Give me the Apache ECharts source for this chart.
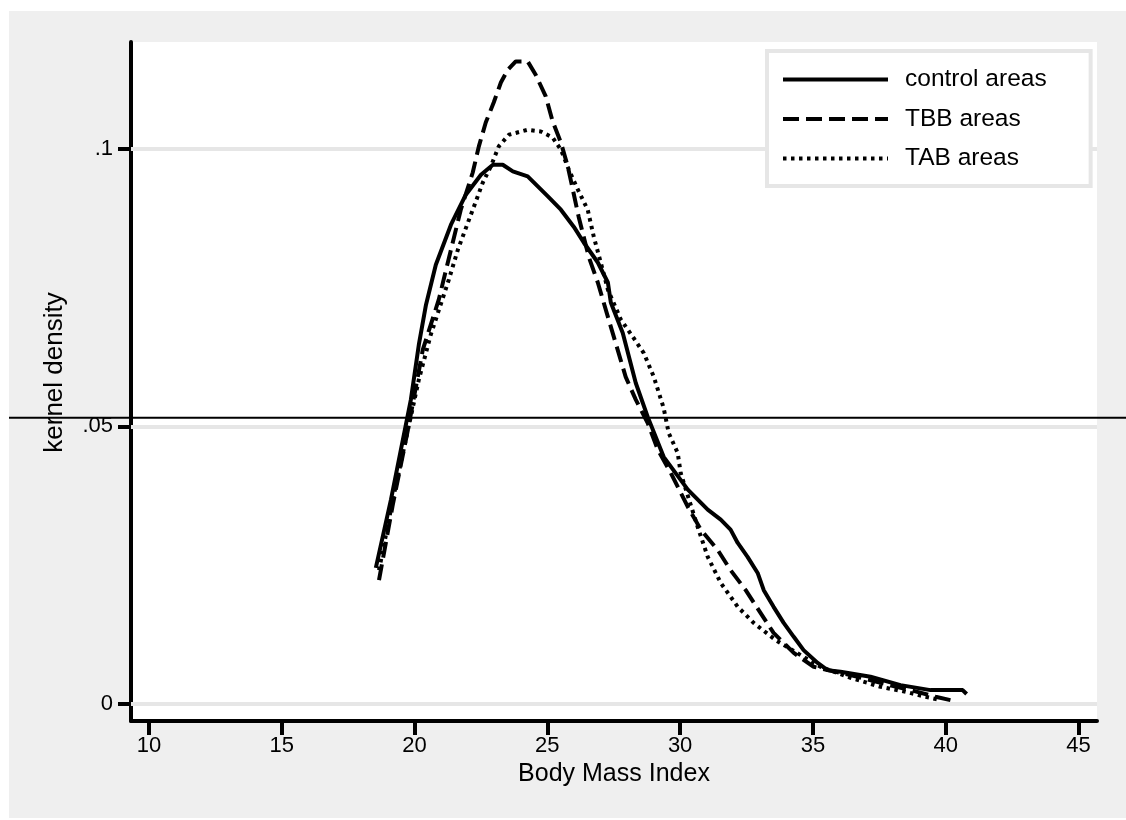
<!DOCTYPE html>
<html>
<head>
<meta charset="utf-8">
<script src="https://cdn.jsdelivr.net/npm/echarts@6/dist/echarts.min.js"></script>
<style>
  html, body { margin: 0; padding: 0; background: #ffffff; }
  #chart { position: absolute; left: 9px; top: 11px; width: 1117px; height: 807px; }
</style>
</head>
<body>
<div id="chart"></div>
<script>
// ---- data ----
const seriesNames = ['control areas', 'TBB areas', 'TAB areas'];

const controlX = [18.54, 19.11, 19.56, 19.86, 20.16, 20.43, 20.80, 21.37, 21.93, 22.50, 22.95, 23.32, 23.70, 24.26, 25.02, 25.51, 26.00, 26.37, 26.90, 27.28, 27.39, 27.84, 28.33, 28.78, 29.38, 30.29, 31.04, 31.53, 31.90, 32.17, 32.54, 32.92, 33.15, 33.52, 33.90, 34.28, 34.65, 35.18, 35.55, 36.04, 37.17, 38.30, 39.43, 40.64, 40.79];
const controlY = [0.0245, 0.0368, 0.0476, 0.0548, 0.0647, 0.0719, 0.0791, 0.0863, 0.0917, 0.0953, 0.0971, 0.0971, 0.0959, 0.0950, 0.0914, 0.0890, 0.0859, 0.0831, 0.0795, 0.0759, 0.0723, 0.0668, 0.0578, 0.0517, 0.0445, 0.0386, 0.0350, 0.0332, 0.0314, 0.0290, 0.0265, 0.0236, 0.0205, 0.0175, 0.0146, 0.0121, 0.0097, 0.0074, 0.0061, 0.0058, 0.0049, 0.0034, 0.0025, 0.0025, 0.0018];

const tbbX = [18.66, 19.18, 19.75, 20.31, 20.91, 21.37, 21.74, 22.19, 22.42, 22.68, 22.98, 23.25, 23.51, 23.81, 24.26, 24.56, 24.94, 25.20, 25.51, 25.77, 25.96, 26.18, 26.56, 26.90, 27.12, 27.95, 28.33, 28.78, 29.16, 29.65, 30.29, 30.78, 31.42, 31.90, 32.47, 32.96, 33.52, 34.28, 35.03, 36.42, 37.55, 38.68, 39.62, 40.18];
const tbbY = [0.0223, 0.0359, 0.0494, 0.0638, 0.0728, 0.0818, 0.0890, 0.0957, 0.1004, 0.1047, 0.1083, 0.1119, 0.1142, 0.1157, 0.1157, 0.1133, 0.1094, 0.1049, 0.1011, 0.0968, 0.0926, 0.0877, 0.0805, 0.0759, 0.0723, 0.0589, 0.0548, 0.0506, 0.0458, 0.0416, 0.0355, 0.0314, 0.0277, 0.0241, 0.0205, 0.0169, 0.0128, 0.0092, 0.0067, 0.0052, 0.0038, 0.0025, 0.0013, 0.0007];

const tabX = [18.66, 19.18, 19.67, 20.16, 20.61, 21.29, 21.63, 22.01, 22.23, 22.57, 22.87, 23.17, 23.55, 24.26, 24.75, 25.20, 25.51, 25.81, 26.15, 26.52, 26.75, 27.01, 27.28, 27.77, 28.22, 28.63, 29.01, 29.38, 29.57, 29.91, 30.02, 30.66, 31.04, 31.53, 32.17, 32.77, 33.60, 34.54, 35.29, 36.42, 37.55, 38.49, 39.24, 39.81];
const tabY = [0.0241, 0.0368, 0.0476, 0.0584, 0.0665, 0.0764, 0.0818, 0.0867, 0.0895, 0.0939, 0.0968, 0.1004, 0.1025, 0.1034, 0.1031, 0.1020, 0.0998, 0.0962, 0.0926, 0.0890, 0.0841, 0.0795, 0.0746, 0.0692, 0.0661, 0.0632, 0.0589, 0.0533, 0.0488, 0.0452, 0.0416, 0.0319, 0.0265, 0.0218, 0.0175, 0.0146, 0.0115, 0.0088, 0.0067, 0.0047, 0.0031, 0.0022, 0.0013, 0.0007];

const xTicks = [10, 15, 20, 25, 30, 35, 40, 45];
const yTicks = [0, 0.05, 0.1];
const yTickLabels = ['0', '.05', '.1'];
const xTitle = 'Body Mass Index';
const yTitle = 'kernel density';

// ---- build ----
function pairs(xs, ys) { return xs.map((x, i) => [x, ys[i]]); }
const FONT = 'Liberation Sans, Arial, Helvetica, sans-serif';

const chart = echarts.init(document.getElementById('chart'), null, { renderer: 'canvas' });

const lineBase = { type: 'line', symbol: 'none', showSymbol: false, smooth: false, z: 3, animation: false };
const dashTBB = [16, 7];
const dashTAB = [3.5, 4.5];

const option = {
  backgroundColor: '#efefef',
  animation: false,
  textStyle: { fontFamily: FONT },
  grid: {
    left: 122, right: 29, top: 31, bottom: 97,
    show: true, backgroundColor: '#ffffff', borderWidth: 0
  },
  xAxis: {
    type: 'value', min: 9.32, max: 45.7,
    name: xTitle, nameLocation: 'middle', nameGap: 41,
    nameTextStyle: { fontSize: 25, color: '#000', fontFamily: FONT },
    axisLine: { show: true, onZero: false, lineStyle: { color: '#000', width: 4 } },
    axisTick: { show: true, length: 14, customValues: xTicks, lineStyle: { color: '#000', width: 4 } },
    axisLabel: { customValues: xTicks, margin: 14, fontSize: 22, color: '#000', fontFamily: FONT },
    splitLine: { show: false }
  },
  yAxis: {
    type: 'value', min: -0.00306, max: 0.1192,
    name: yTitle, nameLocation: 'middle', nameGap: 63, nameRotate: 90,
    nameTextStyle: { fontSize: 26, color: '#000', fontFamily: FONT, padding: [0, 0, 0, 18] },
    axisLine: { show: true, onZero: false, lineStyle: { color: '#000', width: 4 } },
    axisTick: { show: true, length: 13, customValues: yTicks, lineStyle: { color: '#000', width: 4 } },
    axisLabel: {
      customValues: yTicks, margin: 18, fontSize: 22, color: '#000', fontFamily: FONT,
      formatter: function (v) { const i = yTicks.findIndex(t => Math.abs(t - v) < 1e-9); return i >= 0 ? yTickLabels[i] : ''; }
    },
    splitLine: { show: false }
  },
  legend: {
    show: true, orient: 'vertical', left: 758, top: 40,
    data: seriesNames,
    backgroundColor: '#ffffff', borderColor: '#e6e6e6', borderWidth: 4, borderRadius: 0,
    padding: [16, 44, 15, 14],
    itemWidth: 105, itemHeight: 16, itemGap: 14.5,
    itemStyle: { opacity: 0 },
    lineStyle: { width: 4 },
    textStyle: { fontSize: 24.5, color: '#000', fontFamily: FONT, padding: [0, 0, 0, 12] }
  },
  graphic: [{
    type: 'line', silent: true, z: 100,
    shape: { x1: 0, y1: 406.7, x2: 1117, y2: 406.7 },
    style: { stroke: '#000', lineWidth: 2 }
  }],
  series: [
    {
      name: 'grid', type: 'line', data: [], z: 1, silent: true,
      markLine: {
        silent: true, symbol: 'none', label: { show: false }, animation: false, z: 1,
        lineStyle: { color: '#e6e6e6', width: 4, type: 'solid' },
        emphasis: { disabled: true },
        data: yTicks.map(v => ({ yAxis: v }))
      }
    },
    Object.assign({}, lineBase, {
      name: seriesNames[0], data: pairs(controlX, controlY),
      lineStyle: { color: '#000', width: 4, type: 'solid' },
      itemStyle: { color: '#000' }
    }),
    Object.assign({}, lineBase, {
      name: seriesNames[1], data: pairs(tbbX, tbbY),
      lineStyle: { color: '#000', width: 4, type: dashTBB, cap: 'butt' },
      itemStyle: { color: '#000' }
    }),
    Object.assign({}, lineBase, {
      name: seriesNames[2], data: pairs(tabX, tabY),
      lineStyle: { color: '#000', width: 4, type: dashTAB, cap: 'butt' },
      itemStyle: { color: '#000' }
    })
  ]
};
chart.setOption(option);
</script>
</body>
</html>
